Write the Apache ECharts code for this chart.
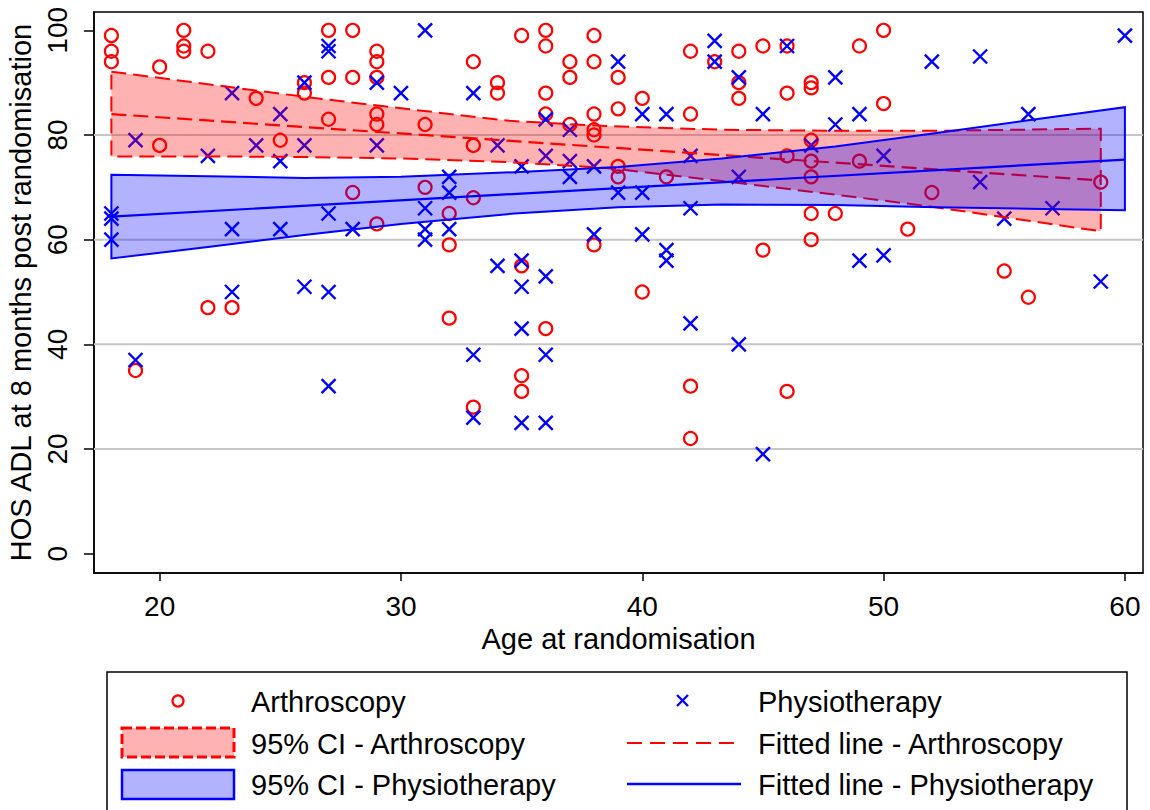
<!DOCTYPE html>
<html><head><meta charset="utf-8">
<script src="https://cdn.jsdelivr.net/npm/echarts@6/dist/echarts.min.js"></script>
<style>html,body{margin:0;padding:0;background:#fff}#c{width:1150px;height:810px}</style>
</head><body><div id="c"></div>
<script>
// ---- data ----
const arthroscopy = [
 [18,99],[18,96],[18,94],[19,35],[20,93],[20,78],[21,100],[21,97],[21,96],[22,96],[22,47],[23,47],
 [24,87],[25,79],[26,90],[26,88],[27,100],[27,91],[27,83],[28,100],[28,91],[28,69],
 [29,96],[29,94],[29,91],[29,84],[29,82],[29,63],[31,82],[31,70],[32,65],[32,59],[32,45],
 [33,94],[33,78],[33,68],[33,28],[34,90],[34,88],[35,99],[35,55],[35,34],[35,31],
 [36,100],[36,97],[36,88],[36,84],[36,43],[37,94],[37,91],[37,82],
 [38,99],[38,94],[38,84],[38,81],[38,80],[38,59],[39,91],[39,85],[39,74],[39,72],
 [40,87],[40,50],[41,72],[42,96],[42,84],[42,32],[42,22],[43,94],[44,96],[44,90],[44,87],
 [45,97],[45,58],[46,97],[46,88],[46,76],[46,31],[47,90],[47,89],[47,79],[47,75],[47,72],[47,65],[47,60],
 [48,65],[49,97],[49,75],[50,100],[50,86],[51,62],[52,69],[55,54],[56,49],[59,71]
];
const physiotherapy = [
 [18,65],[18,64],[18,60],[19,79],[19,37],[22,76],[23,88],[23,62],[23,50],[24,78],
 [25,84],[25,75],[25,62],[26,90],[26,78],[26,51],[27,97],[27,96],[27,65],[27,50],[27,32],
 [28,62],[29,90],[29,78],[30,88],[31,100],[31,66],[31,62],[31,60],[32,72],[32,69],[32,62],
 [33,88],[33,38],[33,26],[34,78],[34,55],[35,74],[35,56],[35,51],[35,43],[35,25],
 [36,83],[36,76],[36,53],[36,38],[36,25],[37,81],[37,75],[37,72],[38,74],[38,61],
 [39,94],[39,69],[40,84],[40,69],[40,61],[41,84],[41,58],[41,56],[42,76],[42,66],[42,44],
 [43,98],[43,94],[44,91],[44,72],[44,40],[45,84],[45,19],[46,97],[47,78],[48,91],[48,82],
 [49,84],[49,56],[50,76],[50,57],[52,94],[54,95],[54,71],[55,64],[56,84],[57,66],[59,52],[60,99]
];
const arthCIAge   = [18, 22, 26, 30, 34.5, 38.5, 43.3, 48, 52, 59];
const arthCIUpper = [92.1, 89.7, 87.3, 85.1, 82.7, 81.7, 81.0, 80.8, 80.8, 81.2];
const arthCILower = [75.9, 75.9, 75.8, 75.5, 74.8, 73.7, 71.2, 68.6, 66.3, 61.6];
const physCIAge   = [18, 22, 26, 30, 34.7, 39, 43.3, 48, 52.2, 56, 60];
const physCIUpper = [72.4, 72.1, 71.8, 72.0, 72.9, 73.9, 75.5, 77.8, 80.4, 82.8, 85.3];
const physCILower = [56.4, 58.6, 60.9, 63.0, 65.0, 66.2, 66.7, 66.6, 66.2, 65.9, 65.6];
const arthFitAge = [18, 59];
const arthFitValue = [84.0, 71.3];
const physFitAge = [18, 60];
const physFitValue = [64.4, 75.3];
const xTicks = [20, 30, 40, 50, 60];
const yTicks = [0, 20, 40, 60, 80, 100];
const gridValues = [20, 40, 60, 80];
const legendLabels = ['Arthroscopy', 'Physiotherapy', '95% CI - Arthroscopy', 'Fitted line - Arthroscopy', '95% CI - Physiotherapy', 'Fitted line - Physiotherapy'];

// ---- presentation ----
const FONT = '"Liberation Sans", Arial, Helvetica, sans-serif';
const FS = 29;      // titles and legend
const FS_TICK = 28; // tick labels
const X_MIN = 17.28, X_MAX = 60.75, Y_MIN = -3.7, Y_MAX = 103.5;
const RED = '#ff0000', BLUE = '#0000ff';
const RED_FILL = 'rgba(255,0,0,0.3)', BLUE_FILL = 'rgba(0,0,255,0.3)';

function band(ages, upper, lower, stroke, fill, dash, z) {
  return {
    type: 'custom', z: z, silent: true, clip: true,
    data: ages.map((a, i) => [a, lower[i], upper[i]]),
    encode: { x: 0, y: [1, 2] },
    renderItem: function (params, api) {
      if (params.dataIndex !== 0) return null;
      const pts = [];
      for (let i = 0; i < ages.length; i++) pts.push(api.coord([ages[i], upper[i]]));
      for (let i = ages.length - 1; i >= 0; i--) pts.push(api.coord([ages[i], lower[i]]));
      return { type: 'polygon', shape: { points: pts },
        style: { fill: fill, stroke: stroke, lineWidth: 2, lineDash: dash } };
    }
  };
}

function txt(t, x, y) {
  return { type: 'text', x: x, y: y, silent: true,
    style: { text: t, fontSize: FS, fontFamily: FONT, fill: '#000', align: 'left', verticalAlign: 'middle' } };
}

const chart = echarts.init(document.getElementById('c'), null, { renderer: 'svg' });
chart.setOption({
  animation: false,
  backgroundColor: '#fff',
  grid: { left: 94, right: 7, top: 12, bottom: 237, show: true, borderColor: '#000', borderWidth: 1.5,
          backgroundColor: '#fff', containLabel: false, outerBoundsMode: 'none' },
  xAxis: {
    type: 'value', min: X_MIN, max: X_MAX,
    axisLine: { show: true, onZero: false, lineStyle: { color: '#000', width: 1.5 } },
    axisTick: { show: true, customValues: xTicks, length: 8, lineStyle: { color: '#000', width: 1.5 } },
    axisLabel: { customValues: xTicks, margin: 19, fontSize: FS_TICK, fontFamily: FONT, color: '#000' },
    splitLine: { show: false },
    name: 'Age at randomisation', nameLocation: 'middle', nameGap: 50,
    nameTextStyle: { fontSize: FS, fontFamily: FONT, color: '#000' }
  },
  yAxis: {
    type: 'value', min: Y_MIN, max: Y_MAX,
    axisLine: { show: true, onZero: false, lineStyle: { color: '#000', width: 1.5 } },
    axisTick: { show: true, customValues: yTicks, length: 10, lineStyle: { color: '#000', width: 1.5 } },
    axisLabel: { customValues: yTicks, rotate: 90, margin: 23, fontSize: FS_TICK, fontFamily: FONT, color: '#000' },
    splitLine: { show: false },
    name: 'HOS ADL at 8 months post randomisation', nameLocation: 'middle', nameGap: 52,
    nameTextStyle: { fontSize: FS, fontFamily: FONT, color: '#000' }
  },
  series: [
    { type: 'custom', z: 1, silent: true, data: gridValues.map(v => [X_MIN, v]), encode: { x: 0, y: 1 },
      renderItem: function (params, api) {
        const cs = params.coordSys;
        const y = api.coord([X_MIN, api.value(1)])[1];
        return { type: 'line', shape: { x1: cs.x, y1: y, x2: cs.x + cs.width, y2: y },
                 style: { stroke: '#c6c6c6', lineWidth: 2 } };
      } },
    { name: legendLabels[0], type: 'scatter', z: 2, silent: true, data: arthroscopy,
      symbol: 'circle', symbolSize: 13,
      itemStyle: { color: 'rgba(0,0,0,0)', borderColor: RED, borderWidth: 2.2, opacity: 1 } },
    { name: legendLabels[1], type: 'scatter', z: 2, silent: true, data: physiotherapy,
      symbol: 'path://M0,0L10,10M10,0L0,10', symbolSize: 14,
      itemStyle: { color: 'rgba(0,0,0,0)', borderColor: BLUE, borderWidth: 2.4, opacity: 1 } },
    Object.assign(band(arthCIAge, arthCIUpper, arthCILower, RED, RED_FILL, [15, 7], 3), { name: legendLabels[2] }),
    { name: legendLabels[3], type: 'line', z: 4, silent: true, symbol: 'none',
      data: arthFitAge.map((a, i) => [a, arthFitValue[i]]),
      lineStyle: { color: RED, width: 2.2, type: [15, 7] } },
    Object.assign(band(physCIAge, physCIUpper, physCILower, BLUE, BLUE_FILL, null, 5), { name: legendLabels[4] }),
    { name: legendLabels[5], type: 'line', z: 6, silent: true, symbol: 'none',
      data: physFitAge.map((a, i) => [a, physFitValue[i]]),
      lineStyle: { color: BLUE, width: 2.2 } }
  ],
  graphic: { elements: [
    { type: 'rect', silent: true, shape: { x: 107, y: 672, width: 1020, height: 160 },
      style: { fill: '#fff', stroke: '#000', lineWidth: 1.5 } },
    { type: 'circle', silent: true, shape: { cx: 178, cy: 701, r: 5.5 }, style: { fill: 'none', stroke: RED, lineWidth: 2.2 } },
    txt(legendLabels[0], 251, 702),
    { type: 'line', silent: true, shape: { x1: 677, y1: 695, x2: 688, y2: 706 }, style: { stroke: BLUE, lineWidth: 2.3 } },
    { type: 'line', silent: true, shape: { x1: 688, y1: 695, x2: 677, y2: 706 }, style: { stroke: BLUE, lineWidth: 2.3 } },
    txt(legendLabels[1], 758, 702),
    { type: 'rect', silent: true, shape: { x: 122, y: 728, width: 112, height: 29 },
      style: { fill: RED_FILL, stroke: RED, lineWidth: 3, lineDash: [10, 4] } },
    txt(legendLabels[2], 251, 744),
    { type: 'line', silent: true, shape: { x1: 627, y1: 743, x2: 741, y2: 743 }, style: { stroke: RED, lineWidth: 2.2, lineDash: [15, 8] } },
    txt(legendLabels[3], 758, 744),
    { type: 'rect', silent: true, shape: { x: 122, y: 770, width: 112, height: 29 },
      style: { fill: BLUE_FILL, stroke: BLUE, lineWidth: 2.5 } },
    txt(legendLabels[4], 251, 785),
    { type: 'line', silent: true, shape: { x1: 627, y1: 784, x2: 741, y2: 784 }, style: { stroke: BLUE, lineWidth: 2.5 } },
    txt(legendLabels[5], 758, 785)
  ] }
});
</script>
</body></html>
